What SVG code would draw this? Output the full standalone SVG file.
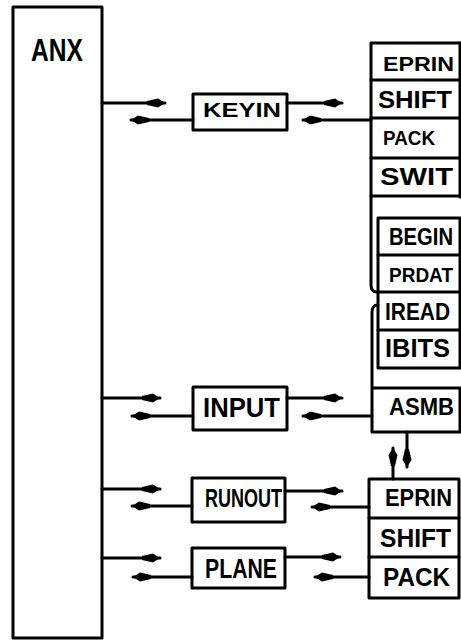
<svg xmlns="http://www.w3.org/2000/svg" width="461" height="642" viewBox="0 0 461 642">
<style>
.b{fill:none;stroke:#000;stroke-width:3;stroke-linejoin:round;stroke-linecap:round}
.c{fill:none;stroke:#000;stroke-width:3;stroke-linecap:round}
.t{font-family:"Liberation Sans",Arial,sans-serif;font-weight:bold;fill:#000}
</style>
<defs>
<marker id="ah" viewBox="-20 -6 21 12" refX="0" refY="0" markerWidth="21" markerHeight="12" markerUnits="userSpaceOnUse" orient="auto">
<path d="M0,0 L-7,-4.5 L-18,-2 L-18,2 L-7,4.5 Z" fill="#000"/>
</marker>
</defs>
<rect width="461" height="642" fill="#fff"/>
<g id="anx">
<rect class="b" x="13" y="7" width="89" height="631"/>
<text class="t" x="31" y="61" font-size="32" textLength="52" lengthAdjust="spacingAndGlyphs">ANX</text>
</g>
<g id="keyin">
<rect class="b" x="193" y="94" width="94" height="36"/>
<text class="t" x="203" y="117" font-size="20" textLength="78" lengthAdjust="spacingAndGlyphs">KEYIN</text>
</g>
<g id="input">
<rect class="b" x="193" y="387" width="94" height="43"/>
<text class="t" x="203" y="417" font-size="27" textLength="77" lengthAdjust="spacingAndGlyphs">INPUT</text>
</g>
<g id="runout">
<rect class="b" x="192" y="478" width="93" height="44"/>
<text class="t" x="205" y="507" font-size="26" textLength="77" lengthAdjust="spacingAndGlyphs">RUNOUT</text>
</g>
<g id="plane">
<rect class="b" x="192" y="548" width="93" height="40"/>
<text class="t" x="205" y="578" font-size="27" textLength="72" lengthAdjust="spacingAndGlyphs">PLANE</text>
</g>
<g id="topstack">
<path class="b" d="M460,43 L371,43 L371,285 Q371,292 377,292"/>
<path class="b" d="M460,43 L460,197"/>
<path class="b" d="M371,80 L460,80 M371,118 L460,118 M371,158 L460,158 M371,196 L460,196"/>
<text class="t" x="383" y="71" font-size="21" textLength="71" lengthAdjust="spacingAndGlyphs">EPRIN</text>
<text class="t" x="378" y="108" font-size="24" textLength="74" lengthAdjust="spacingAndGlyphs">SHIFT</text>
<text class="t" x="383" y="145" font-size="21" textLength="52" lengthAdjust="spacingAndGlyphs">PACK</text>
<text class="t" x="380" y="185" font-size="24" textLength="73" lengthAdjust="spacingAndGlyphs">SWIT</text>
</g>
<g id="innerstack">
<rect class="b" x="378" y="218" width="82" height="150"/>
<path class="b" d="M378,255 L460,255 M378,292 L460,292 M378,330 L460,330"/>
<text class="t" x="389" y="245" font-size="23" textLength="64" lengthAdjust="spacingAndGlyphs">BEGIN</text>
<text class="t" x="389" y="282" font-size="21" textLength="64" lengthAdjust="spacingAndGlyphs">PRDAT</text>
<text class="t" x="385" y="320" font-size="24" textLength="65" lengthAdjust="spacingAndGlyphs">IREAD</text>
<text class="t" x="385" y="357" font-size="25" textLength="65" lengthAdjust="spacingAndGlyphs">IBITS</text>
</g>
<g id="asmb">
<path class="b" d="M378,305 Q372,305 372,312 L372,432 L460,432 L460,388 L372,388"/>
<text class="t" x="389" y="415" font-size="23" textLength="65" lengthAdjust="spacingAndGlyphs">ASMB</text>
</g>
<g id="bottomstack">
<rect class="b" x="369" y="479" width="90" height="119"/>
<path class="b" d="M369,518 L459,518 M369,557 L459,557"/>
<text class="t" x="385" y="506" font-size="24" textLength="67" lengthAdjust="spacingAndGlyphs">EPRIN</text>
<text class="t" x="380" y="547" font-size="25" textLength="71" lengthAdjust="spacingAndGlyphs">SHIFT</text>
<text class="t" x="383" y="586" font-size="25" textLength="67" lengthAdjust="spacingAndGlyphs">PACK</text>
</g>
<g id="connectors">
<path class="c" marker-end="url(#ah)" d="M102,103 L165,103"/>
<path class="c" marker-end="url(#ah)" d="M193,120 L131,120"/>
<path class="c" marker-end="url(#ah)" d="M287,103 L342,103"/>
<path class="c" marker-end="url(#ah)" d="M371,120 L303,120"/>
<path class="c" marker-end="url(#ah)" d="M102,398 L160,398"/>
<path class="c" marker-end="url(#ah)" d="M193,416 L132,416"/>
<path class="c" marker-end="url(#ah)" d="M287,398 L342,398"/>
<path class="c" marker-end="url(#ah)" d="M372,416 L303,416"/>
<path class="c" marker-end="url(#ah)" d="M102,489 L160,489"/>
<path class="c" marker-end="url(#ah)" d="M192,506 L132,506"/>
<path class="c" marker-end="url(#ah)" d="M285,491 L342,491"/>
<path class="c" marker-end="url(#ah)" d="M369,507 L312,507"/>
<path class="c" marker-end="url(#ah)" d="M102,558 L160,558"/>
<path class="c" marker-end="url(#ah)" d="M192,577 L133,577"/>
<path class="c" marker-end="url(#ah)" d="M285,557 L340,557"/>
<path class="c" marker-end="url(#ah)" d="M369,577 L315,577"/>
<path class="c" marker-end="url(#ah)" d="M393,479 L393,448"/>
<path class="c" marker-end="url(#ah)" d="M407,432 L407,467"/>
</g>
</svg>
